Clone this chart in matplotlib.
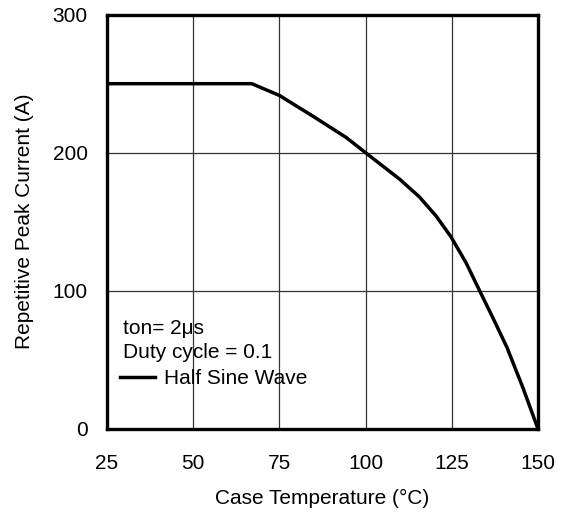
import numpy as np
import matplotlib.pyplot as plt
from matplotlib.lines import Line2D

plt.rcParams['font.family'] = ['Liberation Sans', 'DejaVu Sans']

# values
temp = [25, 67, 75, 84.7, 94.4, 100, 109.8, 115.6, 120.5, 124.8, 129.2,
        132.5, 137, 141, 145.6, 150]
current = [250, 250, 241.5, 226.5, 211, 200, 181, 168, 154, 139, 120,
           103, 80, 59, 30, 0]

xticks = [25, 50, 75, 100, 125, 150]
yticks = [0, 100, 200, 300]

fig = plt.figure(figsize=(5.67, 5.14), dpi=100)
ax = fig.add_axes([0.1887, 0.166, 0.760, 0.8054])

ax.plot(temp, current, color='black', linewidth=2.5, solid_capstyle='butt',
        solid_joinstyle='round')

ax.set_xlim(25, 150)
ax.set_ylim(0, 300)
ax.set_xticks(xticks)
ax.set_yticks(yticks)
ax.tick_params(length=0, labelsize=15)
ax.tick_params(axis='x', pad=18)
ax.tick_params(axis='y', pad=14)
ax.grid(True, color='#333333', linewidth=0.9)
ax.set_axisbelow(True)
for s in ax.spines.values():
    s.set_linewidth(2.4)

ax.set_xlabel('Case Temperature (°C)', fontsize=15, labelpad=12)
ax.set_ylabel('Repetitive Peak Current (A)', fontsize=15, labelpad=13)

ax.text(0.037, 0.241, 'ton= 2μs', transform=ax.transAxes, fontsize=15,
        va='center', ha='left')
ax.text(0.037, 0.183, 'Duty cycle = 0.1', transform=ax.transAxes, fontsize=15,
        va='center', ha='left')
h = Line2D([], [], color='black', linewidth=2.5)
ax.legend([h], ['Half Sine Wave'], loc='center left',
          bbox_to_anchor=(0.030, 0.120), frameon=False, fontsize=15,
          handlelength=1.7, handletextpad=0.4, borderaxespad=0, borderpad=0)

plt.savefig('out.png', dpi=100)
